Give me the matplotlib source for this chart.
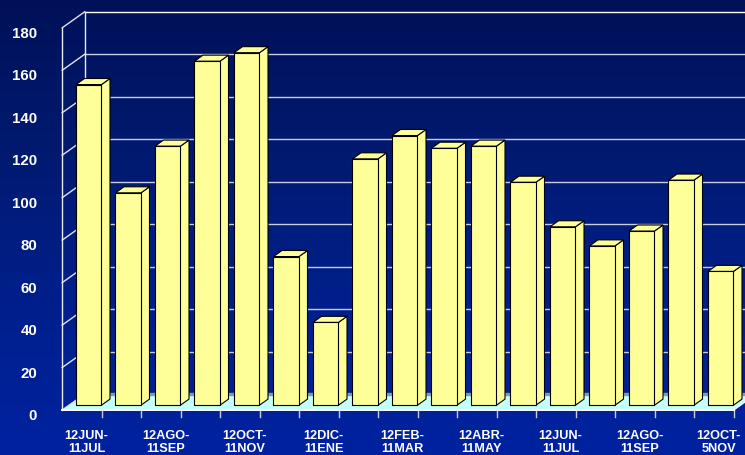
import numpy as np
import matplotlib
matplotlib.use("Agg")
import matplotlib.pyplot as plt
from matplotlib.colors import LinearSegmentedColormap
from matplotlib.patches import Polygon

categories = ["12JUN-\n11JUL", "", "12AGO-\n11SEP", "", "12OCT-\n11NOV", "", "12DIC-\n11ENE", "",
              "12FEB-\n11MAR", "", "12ABR-\n11MAY", "", "12JUN-\n11JUL", "", "12AGO-\n11SEP", "", "12OCT-\n5NOV"]
values = [151, 100, 122, 162, 166, 70, 39, 116, 127, 121, 122, 105, 84, 75, 82, 106, 63]
y_ticks = list(range(0, 200, 20))

W, H = 745, 456
plt.rcParams['font.family'] = ['Liberation Sans', 'DejaVu Sans']
fig = plt.figure(figsize=(W / 100, H / 100), dpi=100)

bg = fig.add_axes([0, 0, 1, 1], zorder=0)
cmap = LinearSegmentedColormap.from_list("b", ["#001058", "#001a70", "#001f8c", "#0022a0"])
bg.imshow(np.linspace(0, 1, 256).reshape(-1, 1), cmap=cmap, aspect="auto", extent=(0, 1, 0, 1))
bg.axis("off")

# front plane of the 3-D box
x0, y0, y180, slot = 62.2, 411.0, 28.8, 39.5
ax = fig.add_axes([x0 / W, (H - y0) / H, (W - x0) / W, (y0 - y180) / H], zorder=1)
ax.patch.set_alpha(0)
ax.set_xlim(0, (W - x0) / slot)
ax.set_ylim(0, 180)
ax.axis("off")

DX = 22.5 / slot            # full depth in x units
DY = 16 / ((y0 - y180) / 180)  # full depth in y units
N = len(values)
WHITE = "#ffffff"

# floor
ax.add_patch(Polygon([(0, 0), (N, 0), (N + DX, DY), (DX, DY)], fc="#c4ffff", ec="none", zorder=1, clip_on=True))
ax.plot([DX, N + DX], [DY + 0.2, DY + 0.2], color="#8c98a8", lw=2.4, zorder=1.5)
ax.plot([0, N], [0, 0], color=WHITE, lw=1.4, zorder=4, clip_on=False)
ax.plot([N, N + DX], [0, DY], color=WHITE, lw=1.0, zorder=1.6)

# walls and gridlines
for t in y_ticks[1:]:
    c = "#c8cde0" if t < 180 else WHITE
    ax.plot([DX, ax.get_xlim()[1]], [t + DY, t + DY], color=c, lw=1.0, zorder=1.2, clip_on=False)
    ax.plot([0, DX], [t, t + DY], color="#dfe3f0", lw=1.0, zorder=1.2, clip_on=False)
ax.plot([0, DX], [0, DY], color="#dfe3f0", lw=1.0, zorder=1.7)
ax.plot([0, 0], [0, 180], color="#e8ebf5", lw=1.0, zorder=1.2, clip_on=False)
ax.plot([DX, DX], [DY, 180 + DY], color="#e8ebf5", lw=1.0, zorder=1.2, clip_on=False)

# bars
BW = 25.5 / slot
d0, d1 = 0.30, 0.68
YEL = "#ffff99"
for i, v in enumerate(values):
    xl = i + 0.5 - BW / 2 + d0 * DX
    xr = xl + BW
    yb = d0 * DY
    yt = yb + v
    ddx, ddy = (d1 - d0) * DX, (d1 - d0) * DY
    kw = dict(fc=YEL, ec="black", lw=0.8, joinstyle="miter", zorder=3 + i * 0.01, clip_on=True)
    ax.add_patch(Polygon([(xr, yb), (xr + ddx, yb + ddy), (xr + ddx, yt + ddy), (xr, yt)], **kw))
    ax.add_patch(Polygon([(xl, yt), (xr, yt), (xr + ddx, yt + ddy), (xl + ddx, yt + ddy)], **kw))
    ax.add_patch(Polygon([(xl, yb), (xr, yb), (xr, yt), (xl, yt)], **kw))

# ticks and labels
for i in range(1, N + 1):
    ax.plot([i, i], [-3.3, 0], color="#c8cde0", lw=1.0, zorder=2, clip_on=False)
for i, lab in enumerate(categories):
    if lab:
        ax.text(i + 0.5 + 4.7 / slot, -9.0, lab, color="white", fontsize=9.2, fontweight="bold",
                ha="center", va="top", linespacing=1.12, clip_on=False)
for t in y_ticks:
    ax.text(-25.2 / slot, t - 2.4, str(t), color="white", fontsize=10.8, fontweight="bold",
            ha="right", va="center", clip_on=False)

fig.savefig("out.png", dpi=100)
